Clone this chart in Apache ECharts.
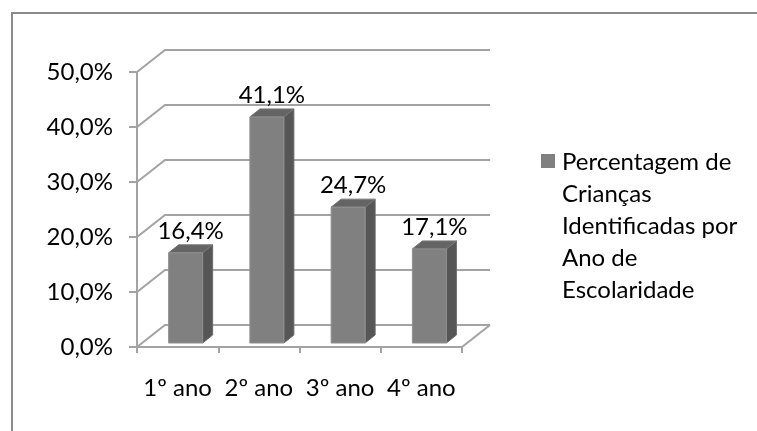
<!DOCTYPE html>
<html><head><meta charset="utf-8">
<script src="https://cdn.jsdelivr.net/npm/echarts@6/dist/echarts.min.js"></script>
<style>html,body{margin:0;padding:0;background:#fff}#c{width:757px;height:431px}</style>
</head><body><div id="c"></div>
<script>
const categories = ['1º ano', '2º ano', '3º ano', '4º ano'];
const values = [16.4, 41.1, 24.7, 17.1];
const valueLabels = ['16,4%', '41,1%', '24,7%', '17,1%'];
const yTicks = [0, 10, 20, 30, 40, 50];
const legendLines = ['Percentagem de', 'Crianças', 'Identificadas por', 'Ano de', 'Escolaridade'];

const FONT = 'Lato';
const FS = 24;
const GRID_COLOR = '#a3a3a3';
const DX = 28, DY = -22;      // wall depth
const BX = 8, BY = -4;        // bar front-plane offset
const BW = 34, BDX = 10, BDY = -8; // bar width and depth
const fmt = v => v.toFixed(1).replace('.', ',') + '%';

const chart = echarts.init(document.getElementById('c'), null, { renderer: 'canvas' });

const option = {
  animation: false,
  backgroundColor: '#fff',
  grid: { left: 137, right: 295, top: 72, bottom: 84, containLabel: false },
  xAxis: {
    type: 'category',
    data: categories,
    axisLine: { show: true, lineStyle: { color: GRID_COLOR, width: 2 } },
    axisTick: { show: true, length: 6, lineStyle: { color: GRID_COLOR, width: 2 } },
    axisLabel: { interval: 0, hideOverlap: false, margin: 29, color: '#000', fontFamily: FONT, fontSize: FS },
    splitLine: { show: false }
  },
  yAxis: {
    type: 'value',
    min: 0, max: 50, interval: 10,
    axisLine: { show: true, lineStyle: { color: GRID_COLOR, width: 2 } },
    axisTick: { show: true, length: 8, lineStyle: { color: GRID_COLOR, width: 2 } },
    axisLabel: { margin: 24, color: '#000', fontFamily: FONT, fontSize: FS, formatter: fmt },
    splitLine: { show: false }
  },
  graphic: [
    { type: 'polyline', shape: { points: [[12, 431], [12, 13], [757, 13]] },
      style: { stroke: '#8a8a8a', lineWidth: 2, fill: null }, silent: true },
    { type: 'rect', shape: { x: 541, y: 154, width: 14, height: 14 }, style: { fill: '#808080' } },
    { type: 'text', x: 562, y: 146,
      style: { text: legendLines.join('\n'), fill: '#000', font: FS + 'px ' + FONT, lineHeight: 32, verticalAlign: 'top' } }
  ],
  series: [
    {
      type: 'custom',
      silent: true,
      z: 1,
      clip: false,
      data: yTicks.map(v => [0, v]),
      renderItem: function (params, api) {
        const cs = params.coordSys;
        const y = api.coord([0, api.value(1)])[1];
        const x0 = cs.x, x1 = cs.x + cs.width;
        const children = [{
          type: 'polyline',
          shape: { points: [[x0, y], [x0 + DX, y + DY], [x1 + DX, y + DY]] },
          style: { stroke: GRID_COLOR, lineWidth: 2, fill: null }
        }];
        if (api.value(1) === 0) {
          children.push({
            type: 'line',
            shape: { x1: x1, y1: y, x2: x1 + DX, y2: y + DY },
            style: { stroke: GRID_COLOR, lineWidth: 2 }
          });
        }
        return { type: 'group', children: children };
      }
    },
    {
      type: 'custom',
      z: 3,
      clip: false,
      data: values.map((v, i) => [i, v]),
      renderItem: function (params, api) {
        const i = api.value(0), v = api.value(1);
        const top = api.coord([i, v]);
        const base = api.coord([i, 0]);
        const cx = top[0] + BX;
        const x0 = cx - BW / 2, x1 = cx + BW / 2;
        const yT = top[1] + BY, yB = base[1] + BY;
        return {
          type: 'group',
          children: [
            { type: 'polygon', shape: { points: [[x1, yT], [x1 + BDX, yT + BDY], [x1 + BDX, yB + BDY], [x1, yB]] },
              style: { fill: '#565656', stroke: '#6a6a6a', lineWidth: 1 } },
            { type: 'polygon', shape: { points: [[x0, yT], [x0 + BDX, yT + BDY], [x1 + BDX, yT + BDY], [x1, yT]] },
              style: { fill: '#646464', stroke: '#777', lineWidth: 1 } },
            { type: 'rect', shape: { x: x0, y: yT, width: BW, height: yB - yT },
              style: { fill: '#808080', stroke: '#909090', lineWidth: 1 } },
            { type: 'text', x: cx + 5, y: yT - 22,
              style: { text: valueLabels[params.dataIndex], fill: '#000', font: FS + 'px ' + FONT,
                       align: 'center', verticalAlign: 'middle' } }
          ]
        };
      }
    }
  ]
};
chart.setOption(option);
</script>
</body></html>
